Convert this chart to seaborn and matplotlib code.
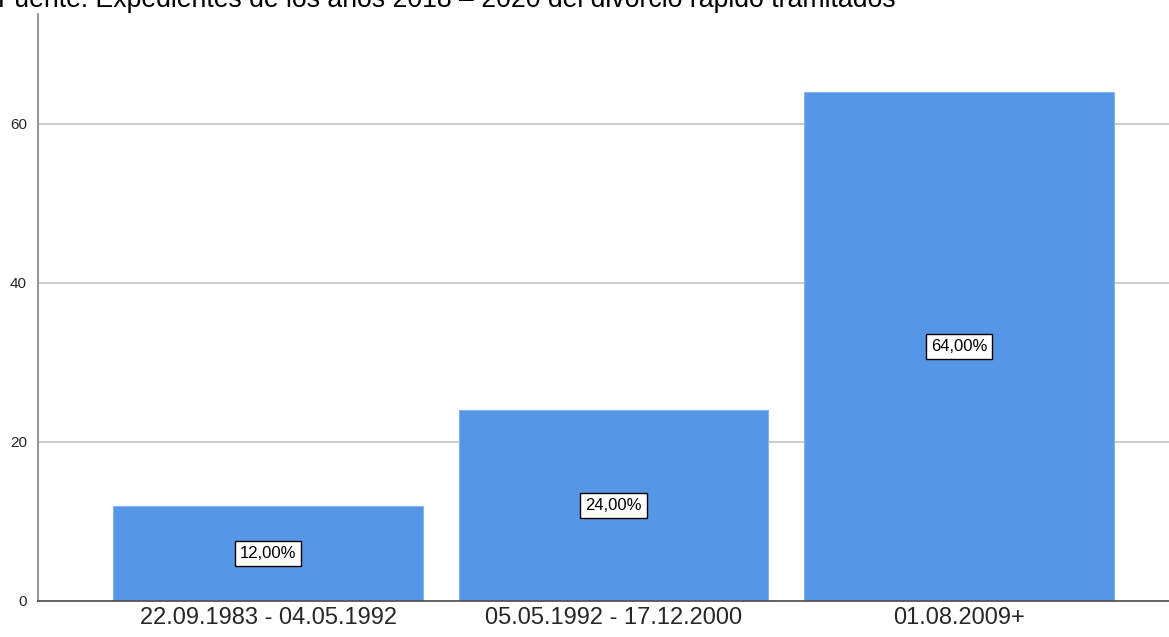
import matplotlib
matplotlib.use("Agg")
import matplotlib.pyplot as plt
import seaborn as sns
import pandas as pd

# Data
periods = ["22.09.1983 - 04.05.1992", "05.05.1992 - 17.12.2000", "01.08.2009+"]
percent = [12.0, 24.0, 64.0]
y_ticks = [0, 20, 40, 60]

title = "Fuente: Expedientes de los años 2018 – 2020 del divorcio rápido tramitados"

df = pd.DataFrame({"periodo": periods, "porcentaje": percent})

sns.set_style("white")
plt.rcParams["font.family"] = ["Liberation Sans", "DejaVu Sans"]

W, H = 1169, 637
fig = plt.figure(figsize=(W / 100, H / 100), dpi=100)
ax = fig.add_axes([38 / W, (H - 601) / H, (W - 38) / W, (601 - 14) / H])

sns.barplot(data=df, x="periodo", y="porcentaje", color="#5596E6",
            saturation=1, width=0.897, edgecolor="#86B3EC", linewidth=0.8,
            ax=ax, zorder=2)

for i, v in enumerate(percent):
    ax.text(i, v / 2, f"{v:.2f}%".replace(".", ","), ha="center", va="center",
            fontsize=12, color="black", zorder=4,
            bbox=dict(boxstyle="square,pad=0.3", fc="white", ec="black", lw=1))

ax.set_xlim(-0.666, 2.608)
ax.set_ylim(0, 73.8)
ax.set_yticks(y_ticks)
ax.set_yticklabels([str(t) for t in y_ticks], fontsize=11)
ax.tick_params(axis="x", labelsize=17, length=0, pad=4)
ax.tick_params(axis="y", length=0, pad=8)
ax.set_xlabel("")
ax.set_ylabel("")

for t in y_ticks[1:]:
    ax.axhline(t, color="#C8C8C8", lw=1.3, zorder=1)

for s in ["top", "right"]:
    ax.spines[s].set_visible(False)
ax.spines["left"].set_color("#8C8C8C")
ax.spines["left"].set_linewidth(1.3)
ax.spines["bottom"].set_color("#555555")
ax.spines["bottom"].set_linewidth(1.3)

fig.text(-0.002, 1 - 7 / H, title, ha="left", va="baseline", fontsize=19.2,
         color="black")

fig.savefig("out.png", dpi=100)
